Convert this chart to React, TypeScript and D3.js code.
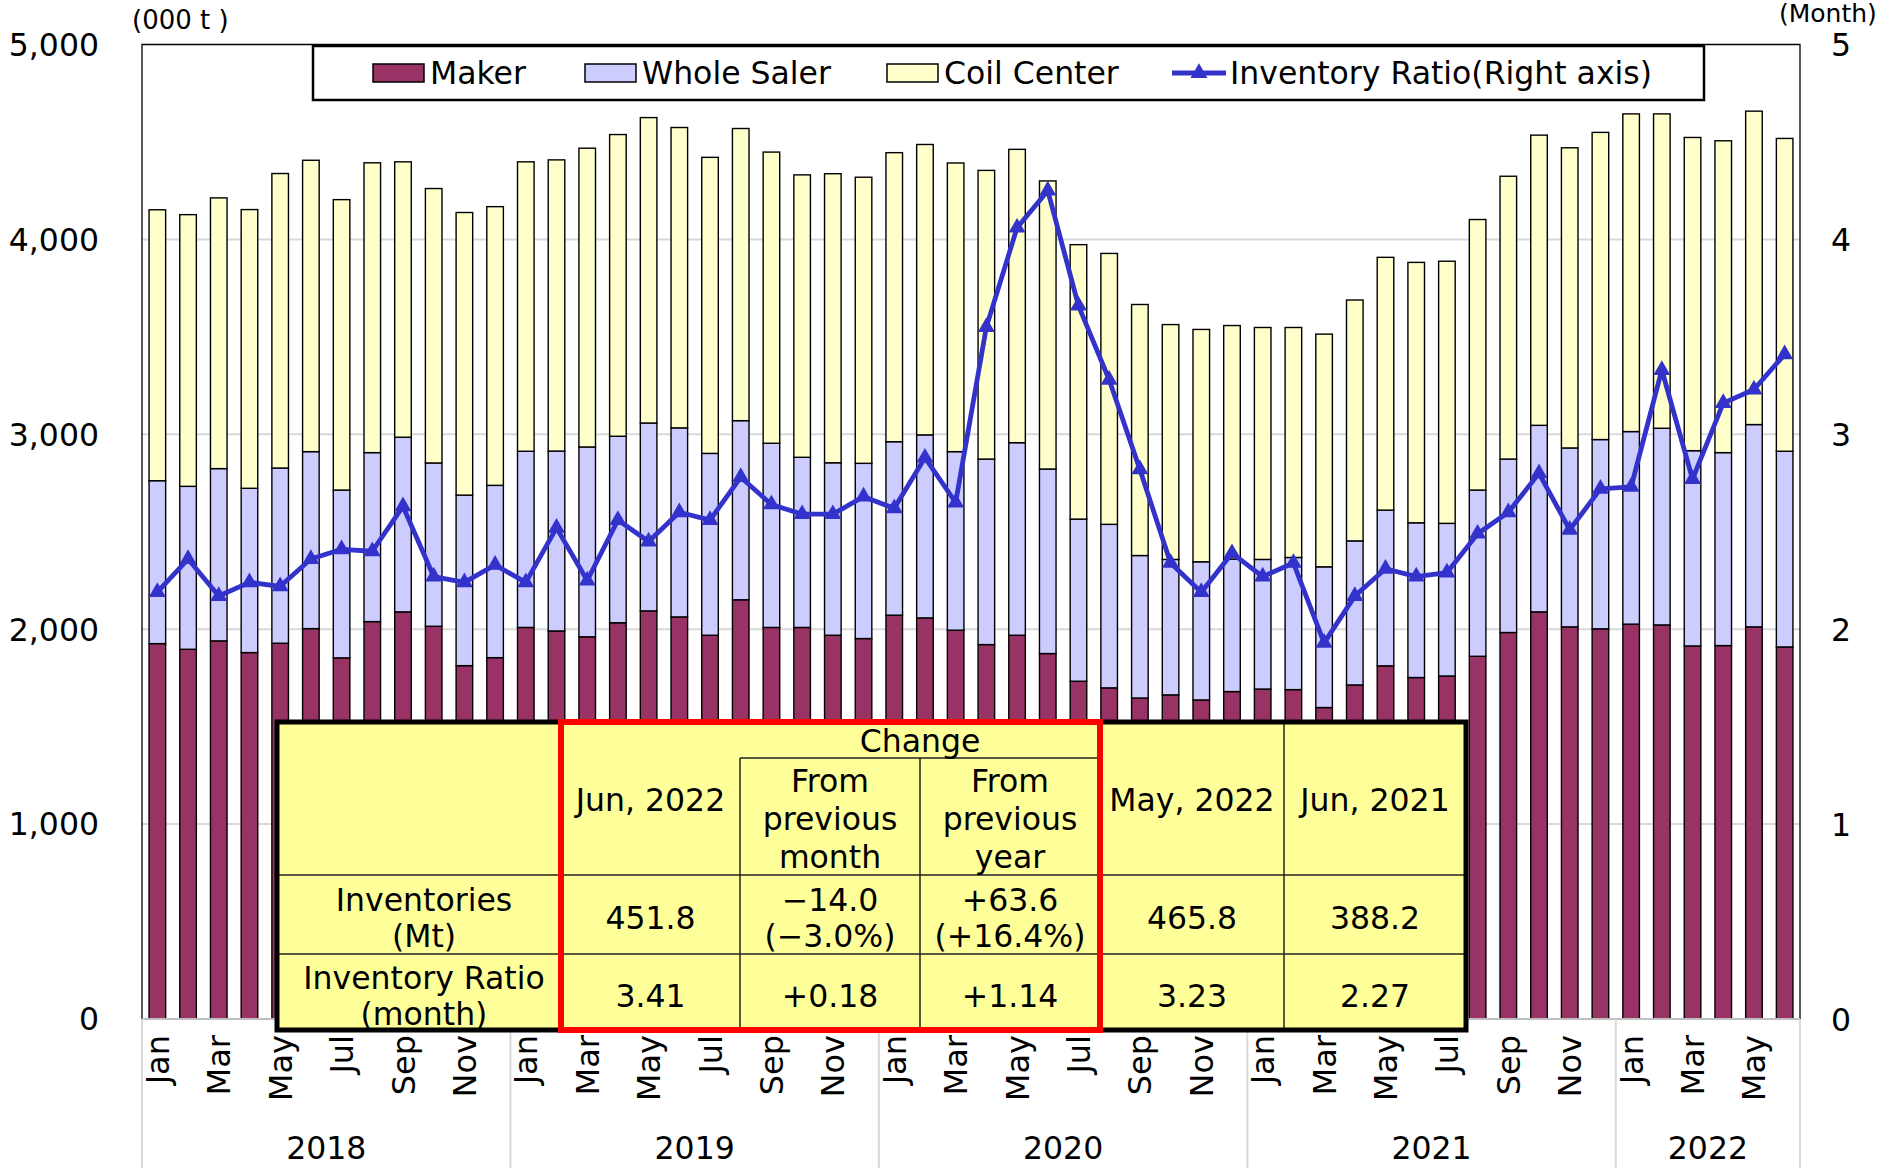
import React, { useEffect, useRef } from "react";
import * as d3 from "d3";

const monthNames = ["Jan", "Feb", "Mar", "Apr", "May", "Jun", "Jul", "Aug", "Sep", "Oct", "Nov", "Dec"];
const years = ["2018", "2019", "2020", "2021", "2022"];

// 000 t
const maker = [
  1926, 1897, 1940, 1880, 1928, 2003, 1853, 2039, 2089, 2015, 1813, 1854,
  2009, 1991, 1961, 2033, 2094, 2063, 1969, 2151, 2009, 2009, 1969, 1952,
  2072, 2058, 1995, 1921, 1969, 1875, 1733, 1699, 1647, 1663, 1637, 1680,
  1693, 1690, 1598, 1714, 1812, 1752, 1760, 1861, 1983, 2089, 2012, 2002,
  2026, 2022, 1914, 1916, 2012, 1909,
];
const wholeSaler = [
  836, 836, 884, 843, 899, 908, 861, 867, 896, 838, 875, 884,
  904, 923, 974, 957, 964, 970, 933, 919, 945, 873, 885, 899,
  890, 939, 916, 952, 988, 947, 832, 839, 731, 695, 709, 680,
  665, 678, 722, 739, 799, 794, 783, 853, 890, 957, 918, 971,
  988, 1009, 1002, 990, 1038, 1004,
];
const coilCenter = [
  1390, 1394, 1389, 1430, 1511, 1495, 1490, 1487, 1413, 1408, 1450, 1430,
  1485, 1494, 1533, 1548, 1567, 1541, 1519, 1499, 1494, 1449, 1483, 1468,
  1483, 1490, 1481, 1481, 1505, 1478, 1408, 1390, 1288, 1205, 1192, 1198,
  1190, 1180, 1194, 1236, 1297, 1336, 1345, 1388, 1451, 1489, 1540, 1576,
  1630, 1613, 1607, 1600, 1608, 1605,
];
// months
const ratio = [
  2.19, 2.36, 2.17, 2.24, 2.22, 2.36, 2.41, 2.40, 2.63, 2.27, 2.24, 2.33,
  2.24, 2.52, 2.25, 2.56, 2.45, 2.60, 2.56, 2.78, 2.64, 2.59, 2.59, 2.68,
  2.62, 2.88, 2.65, 3.55, 4.06, 4.25, 3.66, 3.28, 2.82, 2.34, 2.19, 2.39,
  2.27, 2.34, 1.93, 2.17, 2.31, 2.27, 2.29, 2.49, 2.60, 2.80, 2.51, 2.72,
  2.73, 3.33, 2.77, 3.16, 3.23, 3.41,
];

const months = years.flatMap((yr) => monthNames.map((m) => ({ year: yr, month: m }))).slice(0, maker.length);

const seriesNames = ["Maker", "Whole Saler", "Coil Center"];
const seriesColors = ["#993366", "#CCCCFF", "#FFFFCC"];

const tableHeaders = ["Jun, 2022", "From\nprevious\nmonth", "From\nprevious\nyear", "May, 2022", "Jun, 2021"];
const rowLabels = ["Inventories\n(Mt)", "Inventory Ratio\n(month)"];
const inventoriesRow = ["451.8", "\u221214.0\n(\u22123.0%)", "+63.6\n(+16.4%)", "465.8", "388.2"];
const ratioRow = ["3.41", "+0.18", "+1.14", "3.23", "2.27"];

export default function App() {
  const svgRef = useRef(null);
  useEffect(() => {
    drawChart();
  }, []);

  function drawChart() {
    const width = 1887;
    const height = 1168;
    const left = 142,
      right = 1800,
      top = 44.5,
      bottom = 1019;
    const font = "'DejaVu Sans', Verdana, sans-serif";

    const svg = d3.select(svgRef.current);
    svg.selectAll("*").remove();
    svg.attr("width", width).attr("height", height).style("font-family", font);

    const x = d3
      .scaleBand()
      .domain(d3.range(months.length))
      .range([left, right])
      .paddingInner(0.46)
      .paddingOuter(0.23);
    const y = d3.scaleLinear().domain([0, 5000]).range([bottom, top]);
    const y2 = d3.scaleLinear().domain([0, 5]).range([bottom, top]);

    // gridlines
    svg
      .append("g")
      .selectAll("line")
      .data(y.ticks(5).filter((d) => d > 0 && d < 5000))
      .join("line")
      .attr("x1", left)
      .attr("x2", right)
      .attr("y1", (d) => y(d))
      .attr("y2", (d) => y(d))
      .attr("stroke", "#d9d9d9")
      .attr("stroke-width", 2);

    // stacked bars
    const rows = months.map((_, i) => ({ 0: maker[i], 1: wholeSaler[i], 2: coilCenter[i] }));
    const stacked = d3.stack().keys([0, 1, 2])(rows);
    svg
      .append("g")
      .selectAll("g")
      .data(stacked)
      .join("g")
      .attr("fill", (d, i) => seriesColors[i])
      .selectAll("rect")
      .data((d) => d)
      .join("rect")
      .attr("x", (d, i) => x(i))
      .attr("width", x.bandwidth())
      .attr("y", (d) => y(d[1]))
      .attr("height", (d) => y(d[0]) - y(d[1]))
      .attr("stroke", "#000")
      .attr("stroke-width", 1.4);

    // plot frame
    svg
      .append("path")
      .attr("d", `M${left},${bottom}V${top}H${right}V${bottom}`)
      .attr("fill", "none")
      .attr("stroke", "#000")
      .attr("stroke-width", 1.3);
    svg
      .append("line")
      .attr("x1", left)
      .attr("x2", right)
      .attr("y1", bottom)
      .attr("y2", bottom)
      .attr("stroke", "#bfbfbf")
      .attr("stroke-width", 2);

    // ratio line
    const cx = (i) => x(i) + x.bandwidth() / 2;
    const line = d3
      .line()
      .x((d, i) => cx(i))
      .y((d) => y2(d));
    svg
      .append("path")
      .datum(ratio)
      .attr("d", line)
      .attr("fill", "none")
      .attr("stroke", "#3333CC")
      .attr("stroke-width", 4.8)
      .attr("stroke-linejoin", "round");
    svg
      .append("g")
      .selectAll("path")
      .data(ratio)
      .join("path")
      .attr("transform", (d, i) => `translate(${cx(i)},${y2(d)})`)
      .attr("d", d3.symbol(d3.symbolTriangle, 125))
      .attr("fill", "#3333CC");

    // left axis
    svg
      .append("g")
      .attr("font-size", 31.5)
      .attr("text-anchor", "end")
      .selectAll("text")
      .data(y.ticks(5))
      .join("text")
      .attr("x", 99)
      .attr("y", (d) => y(d))
      .attr("dy", "0.36em")
      .text(d3.format(","));
    // right axis
    svg
      .append("g")
      .attr("font-size", 31.5)
      .attr("text-anchor", "start")
      .selectAll("text")
      .data(y2.ticks(5))
      .join("text")
      .attr("x", 1831)
      .attr("y", (d) => y2(d))
      .attr("dy", "0.37em")
      .text((d) => d);

    svg.append("text").attr("x", 132).attr("y", 29).attr("font-size", 26).text("(000 t )");
    svg.append("text").attr("x", 1779).attr("y", 22).attr("font-size", 25).text("(Month)");

    // month labels
    svg
      .append("g")
      .attr("font-size", 32)
      .attr("text-anchor", "end")
      .selectAll("text")
      .data(months.map((m, i) => ({ ...m, i })).filter((d) => d.i % 2 === 0))
      .join("text")
      .attr("transform", (d) => `translate(${cx(d.i)},${bottom + 16}) rotate(-90)`)
      .attr("dy", "0.36em")
      .text((d) => d.month);

    // year groups
    const step = x.step();
    const bounds = years.map((yr, k) => k * 12).concat([months.length]);
    svg
      .append("g")
      .selectAll("line")
      .data(bounds)
      .join("line")
      .attr("x1", (d) => left + d * step)
      .attr("x2", (d) => left + d * step)
      .attr("y1", bottom)
      .attr("y2", height)
      .attr("stroke", "#d9d9d9")
      .attr("stroke-width", 2);
    svg
      .append("g")
      .attr("font-size", 31.5)
      .attr("text-anchor", "middle")
      .selectAll("text")
      .data(years)
      .join("text")
      .attr("x", (d, k) => left + ((bounds[k] + bounds[k + 1]) / 2) * step)
      .attr("y", 1159)
      .text((d) => d);

    // legend
    const lg = svg.append("g");
    lg.append("rect")
      .attr("x", 313)
      .attr("y", 46)
      .attr("width", 1391)
      .attr("height", 54)
      .attr("fill", "#fff")
      .attr("stroke", "#000")
      .attr("stroke-width", 2.5);
    const legendX = [373, 585, 887];
    seriesNames.forEach((name, i) => {
      lg.append("rect")
        .attr("x", legendX[i])
        .attr("y", 64)
        .attr("width", 51)
        .attr("height", 18)
        .attr("fill", seriesColors[i])
        .attr("stroke", "#000")
        .attr("stroke-width", 1.5);
      lg.append("text")
        .attr("x", legendX[i] + 57)
        .attr("y", 73)
        .attr("dy", "0.36em")
        .attr("font-size", 31.5)
        .text(name);
    });
    lg.append("line")
      .attr("x1", 1172)
      .attr("x2", 1226)
      .attr("y1", 73)
      .attr("y2", 73)
      .attr("stroke", "#3333CC")
      .attr("stroke-width", 4.8);
    lg.append("path")
      .attr("transform", "translate(1199,73)")
      .attr("d", d3.symbol(d3.symbolTriangle, 125))
      .attr("fill", "#3333CC");
    lg.append("text")
      .attr("x", 1230)
      .attr("y", 73)
      .attr("dy", "0.36em")
      .attr("font-size", 31.5)
      .text("Inventory Ratio(Right axis)");

    // summary table
    const colX = [277, 561, 740, 920, 1100, 1284, 1466];
    const rowY = [722, 758, 875, 954, 1030];
    const tg = svg.append("g").attr("font-size", 31.5).attr("text-anchor", "middle");
    tg.append("rect")
      .attr("x", colX[0])
      .attr("y", rowY[0])
      .attr("width", colX[6] - colX[0])
      .attr("height", rowY[4] - rowY[0])
      .attr("fill", "#FFFF99");
    const thin = (x1, y1, x2, y2) =>
      tg.append("line")
        .attr("x1", x1)
        .attr("y1", y1)
        .attr("x2", x2)
        .attr("y2", y2)
        .attr("stroke", "#222")
        .attr("stroke-width", 1.5);
    thin(colX[2], rowY[1], colX[4], rowY[1]);
    thin(colX[0], rowY[2], colX[6], rowY[2]);
    thin(colX[0], rowY[3], colX[6], rowY[3]);
    thin(colX[2], rowY[1], colX[2], rowY[4]);
    thin(colX[3], rowY[1], colX[3], rowY[4]);
    thin(colX[5], rowY[0], colX[5], rowY[4]);

    const multi = (txt, xc, yc, lh) => {
      const parts = txt.split("\n");
      const t = tg.append("text").attr("x", xc).attr("y", yc);
      parts.forEach((p, k) => {
        t.append("tspan")
          .attr("x", xc)
          .attr("y", yc + (k - (parts.length - 1) / 2) * lh)
          .attr("dy", "0.36em")
          .text(p);
      });
    };
    const colC = (c) => (colX[c + 1] + colX[c + 2]) / 2;
    multi("Change", (colX[2] + colX[4]) / 2, 741, 36);
    tableHeaders.forEach((h, c) => {
      const yc = c === 1 || c === 2 ? 819 : 800;
      multi(h, colC(c), yc, 38);
    });
    multi(rowLabels[0], 424, 918, 36);
    multi(rowLabels[1], 424, 996, 36);
    inventoriesRow.forEach((v, c) => multi(v, colC(c), 918, 36));
    ratioRow.forEach((v, c) => multi(v, colC(c), 996, 36));

    tg.append("rect")
      .attr("x", colX[0])
      .attr("y", rowY[0])
      .attr("width", colX[6] - colX[0])
      .attr("height", rowY[4] - rowY[0])
      .attr("fill", "none")
      .attr("stroke", "#000")
      .attr("stroke-width", 5);
    tg.append("rect")
      .attr("x", colX[1])
      .attr("y", rowY[0])
      .attr("width", colX[4] - colX[1])
      .attr("height", rowY[4] - rowY[0])
      .attr("fill", "none")
      .attr("stroke", "#FF0000")
      .attr("stroke-width", 6);
  }

  return (
    <div style={{ position: "absolute", left: 0, top: 0 }}>
      <svg ref={svgRef} style={{ display: "block" }}></svg>
    </div>
  );
}
